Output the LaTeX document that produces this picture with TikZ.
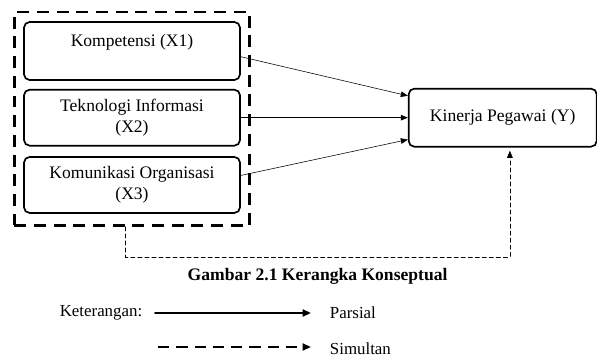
\documentclass[tikz,border=0pt]{standalone}
\usepackage{fontspec}
\setmainfont{Liberation Serif}
\usepackage{tikz}
\usetikzlibrary{arrows.meta, calc, fit, positioning}
\def\scale{1}

\begin{document}
\begin{tikzpicture}[scale=\scale, line cap = round,
	varbox/.style={draw, very thick, rounded corners=4pt, minimum width=5.4cm, minimum height=1.4cm, align=center, inner sep=1pt, font=\fontsize{12.5}{15}\selectfont},
	frame/.style={draw, line width=2pt, dash pattern=on 8.5pt off 5.5pt, line cap=butt},
	parsial/.style={-{Triangle[length=5pt, width=4pt]}, thin},
	simul/.style={-{Triangle[length=5pt, width=4pt]}, thin, dash pattern=on 3pt off 2pt},
	txt/.style={font=\fontsize{12}{14}\selectfont}]
	\useasboundingbox (0,0) rectangle (14.925,8.95);
	% \draw[gray] (0,0) grid (14.9,8.9);

	\node[varbox, minimum height=1.45cm] (x1) at (3.3,7.675) {Kompetensi (X1)\\~};
	\node[varbox, below=0.2cm of x1] (x2) {Teknologi Informasi\\(X2)};
	\node[varbox, below=0.24cm of x2] (x3) {Komunikasi Organisasi\\(X3)};
	\node[varbox, minimum width=4.7cm, minimum height=1.45cm, right=4.175cm of x2] (kinerja) {Kinerja Pegawai (Y)};

	\node[frame, fit=(x1)(x2)(x3), inner xsep=0.22cm, inner ysep=0.26cm, yshift=-0.03cm] (frame) {};

	\draw[parsial] (x1.-3) -- (kinerja.167);
	\draw[parsial] (x2.east) -- (kinerja.west);
	\draw[parsial] (x3.5) -- (kinerja.193);
	\draw[simul, shorten >=0.08cm] ([xshift=-0.16cm]frame.south) -- ++(0,-0.75) -| ([xshift=0.18cm]kinerja.south);

	\node[font=\fontsize{12.5}{15}\selectfont\bfseries] (caption) at (7.94,2.05) {Gambar 2.1 Kerangka Konseptual};

	% keterangan
	\node[txt] (ket) at (2.525,1.125) {Keterangan:};
	\node[txt, anchor=west] (parsial) at (8.125,1.125) {Parsial};
	\node[txt, anchor=west] (simultan) at (8.125,0.23) {Simultan};
	\coordinate (p0) at (3.875,1.125);
	\coordinate (s0) at (3.95,0.275);
	\draw[-{Triangle[length=6pt, width=5pt]}, line width=1.4pt] (p0) -- ([xshift=-0.35cm]parsial.west |- p0);
	\draw[-{Triangle[length=6pt, width=5pt]}, line width=1.4pt, dash pattern=on 8pt off 5pt, line cap=butt] (s0) -- ([xshift=-0.35cm]simultan.west |- s0);

\end{tikzpicture}
\end{document}
